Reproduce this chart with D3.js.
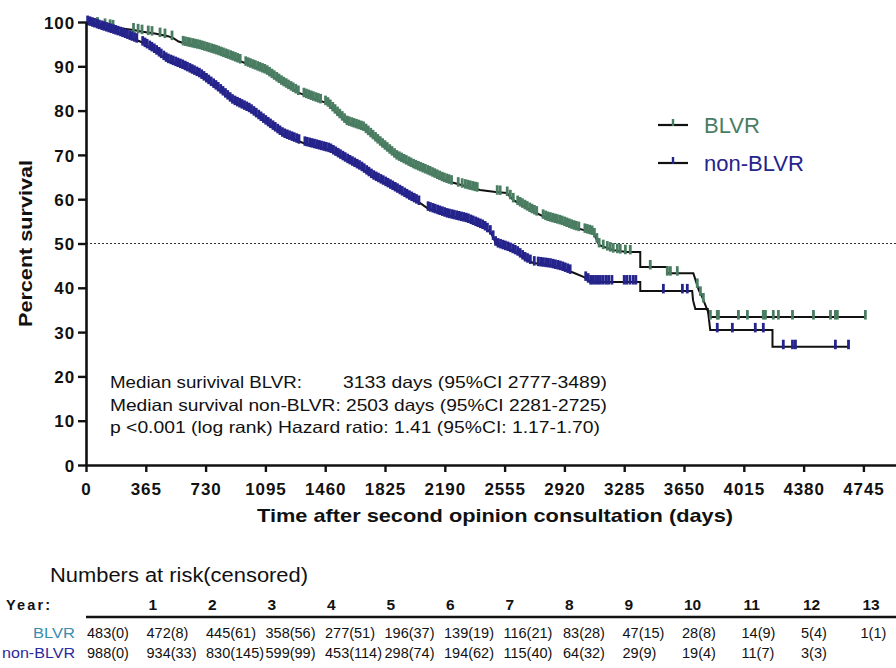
<!DOCTYPE html>
<html><head><meta charset="utf-8">
<script src="https://cdn.jsdelivr.net/npm/d3@7"></script>
<style>
body{margin:0;background:#fff}
svg{display:block;font-family:"Liberation Sans",Arial,Helvetica,sans-serif}
</style>
</head><body><svg id="c" width="896" height="668"></svg>
<script>
// ---------- data ----------
const xTicks = [0,365,730,1095,1460,1825,2190,2555,2920,3285,3650,4015,4380,4745];
const yTicks = [0,10,20,30,40,50,60,70,80,90,100];

// Kaplan-Meier curve vertices [day, percent survival]
const blvrCurve = [[0,100],[60,99.6],[120,99.2],[210,98.6],[290,98.2],[345,97.8],[420,97.4],[500,96.8],[531,96.4],[565,95.6],[600,95.2],[696,94.4],[800,93.2],[900,91.8],[1000,90.3],[1100,88.8],[1200,86.2],[1300,84],[1400,82.6],[1470,81.7],[1530,79.5],[1592,77.3],[1693,76],[1800,72.5],[1897,69.5],[2000,67.5],[2100,65.9],[2180,64.5],[2242,63.7],[2330,62.8],[2405,62.1],[2500,61.6],[2568,61.4],[2609,59.8],[2711,57.6],[2813,55.7],[2900,54.8],[2976,53.7],[3097,52.4],[3133,49.6],[3218,48.5],[3300,48.1],[3383,48.1],[3383,44.7],[3548,44.7],[3548,43.3],[3707,43.3],[3720,41.8],[3740,39.5],[3760,38],[3792,35],[3810,33.4],[4757,33.4]];
const nonBlvrCurve = [[0,100],[85,98.9],[208,97.4],[330,95.6],[420,93.5],[495,91.4],[593,89.9],[696,88],[800,85.1],[898,82],[1001,80.1],[1104,77.2],[1205,74.5],[1326,72.7],[1400,72],[1490,71.1],[1592,68.8],[1680,67],[1754,65],[1830,63.5],[1897,62.1],[1970,60.5],[2040,59.1],[2083,58],[2205,56.4],[2327,55.3],[2429,53.7],[2470,52.5],[2490,51],[2503,49.8],[2580,48.8],[2632,47.9],[2680,46.5],[2730,45.6],[2834,45.1],[2900,44.5],[2976,43.4],[3040,42.4],[3080,41.3],[3383,41.3],[3383,39.3],[3700,39.3],[3705,37.2],[3719,35.2],[3795,35.2],[3810,30.5],[4190,30.5],[4190,26.7],[4654,26.7]];

// censored observations (days)
const blvrCensored = [70,116,147,165,290,318,342,380,403,452,482,525,
593,607,622,636,651,665,680,694,709,723,738,752,767,781,796,810,825,839,854,868,883,897,912,926,941,
975,990,1004,1019,1033,1048,1062,1077,1091,1106,1120,1135,1149,1164,1178,1193,1207,1222,1236,1251,1265,1280,1296,
1330,1345,1359,1374,1388,1403,1418,1432,
1462,1477,1491,1506,1520,1535,1549,1564,1578,1593,1607,1622,1636,1651,1665,1680,1694,1709,1723,1738,1752,1767,1781,1796,1810,1825,1839,1854,1868,1883,1897,1912,1926,1941,1955,1970,1984,1999,2013,2028,2042,2057,2071,2086,2100,2115,2129,2144,2158,2173,2187,2202,2216,2231,
2272,2296,2315,2330,2345,2360,2375,2388,
2510,2528,2571,2590,2608,
2635,2650,2664,2679,2693,2708,2722,2737,2751,2790,2805,2819,2834,2848,2863,2877,2892,2906,2921,2935,2950,2964,2979,2993,3008,3045,3060,3074,3089,3103,3118,3132,
3157,3182,3200,3218,3243,3261,3292,3322,3444,3548,3567,3609,3731,3750,3768,
3811,3853,3860,3982,4037,4134,4147,4195,4226,4312,4440,4544,4574,4586,4757];
const nonBlvrCensored = [10,24,39,52,68,81,96,110,125,139,153,168,181,196,211,224,239,253,268,281,296,310,
346,360,373,389,402,417,431,446,459,475,489,503,518,532,547,561,576,590,605,619,634,648,662,677,692,706,720,735,749,764,779,793,807,822,836,851,865,880,894,909,924,938,952,967,981,996,1010,1025,1039,1054,1068,1083,1097,1112,1126,1141,1155,1170,1184,1199,1213,1228,1242,1257,1271,1286,1300,
1336,1350,1365,1379,1394,1408,1423,1437,1452,1466,1481,1495,1510,1524,1539,1553,1568,1582,1597,1611,1626,1640,1655,1669,1684,1698,1713,1727,1742,1756,1771,1785,1800,1814,1829,1843,1858,1872,1887,1901,1916,1930,1945,1959,1974,1988,2003,2017,2032,
2088,2102,2117,2131,2146,2160,2175,2189,2204,2218,2233,2247,2262,2276,2291,2305,2320,2334,2349,2363,2378,2392,2407,2421,2436,2450,
2468,2485,2500,2515,2530,2545,2560,2575,2590,2605,2620,2635,2650,2665,2680,2695,2712,2736,2760,2775,2790,2805,2820,2835,2850,2865,2880,2895,2910,2925,2940,2955,
3050,3065,3080,3095,3110,3125,3140,3157,3175,3190,3210,3285,3300,3320,3340,3356,
3524,3640,3670,3853,3945,4085,4134,4256,4312,4330,4574,4654];

const seriesNames = ["BLVR","non-BLVR"];
const annotations = [
  ["Median surivival BLVR:", "3133 days (95%CI 2777-3489)"],
  ["Median survival non-BLVR: 2503 days (95%CI 2281-2725)"],
  ["p <0.001 (log rank) Hazard ratio: 1.41 (95%CI: 1.17-1.70)"]
];
const years = ["1","2","3","4","5","6","7","8","9","10","11","12","13"];
const blvrRisk = ["483(0)","472(8)","445(61)","358(56)","277(51)","196(37)","139(19)","116(21)","83(28)","47(15)","28(8)","14(9)","5(4)","1(1)"];
const nonBlvrRisk = ["988(0)","934(33)","830(145)","599(99)","453(114)","298(74)","194(62)","115(40)","64(32)","29(9)","19(4)","11(7)","3(3)"];

// ---------- drawing ----------
const GREEN = "#4a7d62", BLUE = "#25238c";
const svg = d3.select("#c");
const x = d3.scaleLinear().domain([0, 4950]).range([86, 897]);
const y = d3.scaleLinear().domain([0, 100]).range([465, 22]);

// 50% reference line
svg.append("line").attr("x1", x(0)).attr("x2", 896).attr("y1", y(50)).attr("y2", y(50))
  .attr("stroke", "#333").attr("stroke-width", 1).attr("stroke-dasharray", "2,2");

const line = d3.line().x(d => x(d[0])).y(d => y(d[1]));
const bis = d3.bisector(d => d[0]).right;
function survAt(c, t){
  const i = bis(c, t) - 1;
  if (i < 0) return c[0][1];
  if (i >= c.length - 1) return c[c.length - 1][1];
  const a = c[i], b = c[i + 1];
  if (b[0] === a[0]) return b[1];
  return a[1] + (b[1] - a[1]) * (t - a[0]) / (b[0] - a[0]);
}

const series = [
  {curve: blvrCurve, cens: blvrCensored, color: GREEN},
  {curve: nonBlvrCurve, cens: nonBlvrCensored, color: BLUE}
];
series.forEach(s => {
  svg.append("path").datum(s.curve).attr("d", line).attr("fill", "none")
    .attr("stroke", "#111").attr("stroke-width", 2);
});
series.forEach(s => {
  svg.append("g").selectAll("line").data(s.cens).join("line")
    .attr("x1", d => x(d)).attr("x2", d => x(d))
    .attr("y1", d => y(survAt(s.curve, d)) - 7)
    .attr("y2", d => y(survAt(s.curve, d)) + 2.5)
    .attr("stroke", s.color).attr("stroke-width", 2.8);
});

// axes
const yAxis = svg.append("g").attr("transform", `translate(${x(0)},0)`)
  .call(d3.axisLeft(y).tickValues(yTicks).tickSize(8).tickSizeOuter(0).tickPadding(3).tickFormat(d3.format("d")));
const xAxis = svg.append("g").attr("transform", `translate(0,${y(0)})`)
  .call(d3.axisBottom(x).tickValues(xTicks).tickSize(7).tickSizeOuter(0).tickPadding(11).tickFormat(d3.format("d")));
[yAxis, xAxis].forEach(g => {
  g.select(".domain").attr("stroke", "#111").attr("stroke-width", 2.6);
  g.selectAll(".tick line").attr("stroke", "#111").attr("stroke-width", 2.4);
  g.selectAll(".tick text").attr("fill", "#111").attr("font-size", 17).attr("font-weight", "bold")
    .attr("font-family", "'Liberation Sans',Arial,sans-serif").style("letter-spacing", "0.9px");
});
yAxis.selectAll(".tick text").attr("dy", "0.36em");

// axis titles
svg.append("text").attr("x", 257).attr("y", 522).attr("font-size", 18.5).attr("font-weight", "bold")
  .attr("fill", "#111").attr("textLength", 476).attr("lengthAdjust", "spacingAndGlyphs")
  .text("Time after second opinion consultation (days)");
svg.append("text").attr("transform", "translate(32,243.5) rotate(-90)").attr("text-anchor", "middle")
  .attr("font-size", 19).attr("font-weight", "bold").attr("fill", "#111")
  .attr("textLength", 167).attr("lengthAdjust", "spacingAndGlyphs").text("Percent survival");

// annotation text
const annY = [388, 410.5, 433];
svg.append("text").attr("x", 110).attr("y", annY[0]).attr("font-size", 16.5).attr("fill", "#111")
  .attr("textLength", 192).attr("lengthAdjust", "spacingAndGlyphs").text(annotations[0][0]);
svg.append("text").attr("x", 343).attr("y", annY[0]).attr("font-size", 16.5).attr("fill", "#111")
  .attr("textLength", 264).attr("lengthAdjust", "spacingAndGlyphs").text(annotations[0][1]);
svg.append("text").attr("x", 110).attr("y", annY[1]).attr("font-size", 16.5).attr("fill", "#111")
  .attr("textLength", 497).attr("lengthAdjust", "spacingAndGlyphs").text(annotations[1][0]);
svg.append("text").attr("x", 110).attr("y", annY[2]).attr("font-size", 16.5).attr("fill", "#111")
  .attr("textLength", 490).attr("lengthAdjust", "spacingAndGlyphs").text(annotations[2][0]);

// legend
const leg = svg.append("g");
[[125, GREEN], [163, BLUE]].forEach((p, i) => {
  leg.append("line").attr("x1", 658).attr("x2", 688).attr("y1", p[0]).attr("y2", p[0])
    .attr("stroke", "#111").attr("stroke-width", 2.2);
  leg.append("line").attr("x1", 673).attr("x2", 673).attr("y1", p[0] - 6).attr("y2", p[0] + 1)
    .attr("stroke", p[1]).attr("stroke-width", 2.4);
  leg.append("text").attr("x", 704).attr("y", p[0] + 8).attr("font-size", 22).attr("fill", p[1])
    .text(seriesNames[i]);
});

// numbers at risk table
svg.append("text").attr("x", 50).attr("y", 582).attr("font-size", 20).attr("fill", "#111")
  .attr("textLength", 258).attr("lengthAdjust", "spacingAndGlyphs").text("Numbers at risk(censored)");
svg.append("text").attr("x", 6).attr("y", 610).attr("font-size", 14.5).attr("font-weight", "bold")
  .attr("fill", "#111").attr("textLength", 44).attr("lengthAdjust", "spacing").text("Year:");
const col = d3.scaleLinear().domain([0, 13]).range([87, 860.5]);
svg.append("g").selectAll("text").data(years).join("text")
  .attr("x", (d, i) => col(i + 1) + 2).attr("y", 610).attr("font-size", 15.5).attr("font-weight", "bold")
  .attr("fill", "#111").text(d => d);
svg.append("line").attr("x1", 86).attr("x2", 896).attr("y1", 617).attr("y2", 617)
  .attr("stroke", "#111").attr("stroke-width", 2.4);
svg.append("text").attr("x", 75).attr("y", 638).attr("text-anchor", "end").attr("font-size", 15)
  .attr("fill", "#3a8cb0").attr("textLength", 42).attr("lengthAdjust", "spacingAndGlyphs").text(seriesNames[0]);
svg.append("text").attr("x", 75).attr("y", 658).attr("text-anchor", "end").attr("font-size", 15)
  .attr("fill", "#2a2a9c").attr("textLength", 73).attr("lengthAdjust", "spacingAndGlyphs").text(seriesNames[1]);
[[blvrRisk, 638], [nonBlvrRisk, 658]].forEach(r => {
  svg.append("g").selectAll("text").data(r[0]).join("text")
    .attr("x", (d, i) => col(i)).attr("y", r[1]).attr("font-size", 14.5).attr("fill", "#111").text(d => d);
});
</script></body></html>
